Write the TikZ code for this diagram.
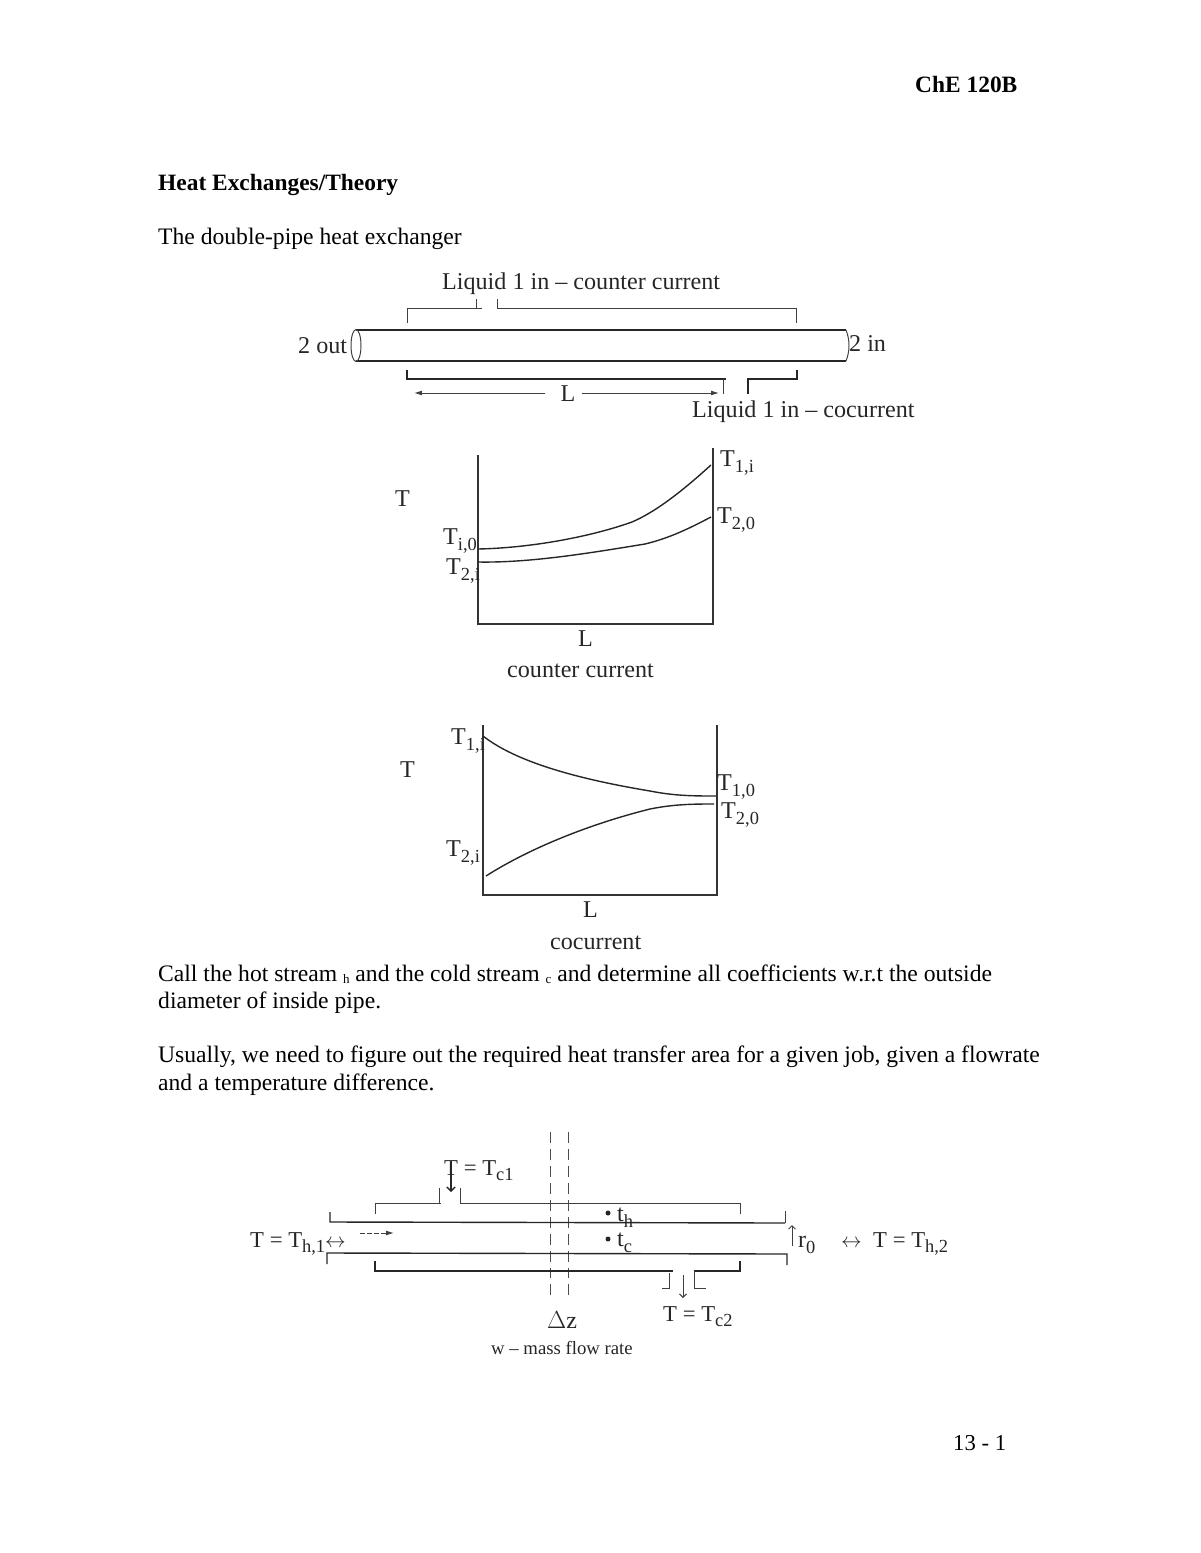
\documentclass[tikz,border=0pt]{standalone}
\usepackage{fontspec}
\setmainfont{Liberation Serif}
\usetikzlibrary{arrows.meta}
\newcommand{\lowsub}[1]{\raisebox{-0.55ex}{\fontsize{18.5}{18.5}\selectfont #1}}
\newcommand{\tinysub}[1]{\raisebox{-0.25ex}{\fontsize{13}{13}\selectfont #1}}
\begin{document}
\begin{tikzpicture}[x=1bp,y=-1bp,>={Latex[length=8pt,width=5pt]},
    bodytext/.style={inner sep=0pt,anchor=base west,font=\fontsize{23.7}{28}\selectfont},
    headtext/.style={bodytext,font=\fontsize{23.5}{28}\selectfont\bfseries},
    figtext/.style={inner sep=0pt,anchor=base west,text=black!85,font=\fontsize{24.2}{28}\selectfont},
    eqtext/.style={figtext,font=\fontsize{22.8}{28}\selectfont},
    pipeline/.style={line width=1.4pt,black!85},
    thinline/.style={line width=1pt,black!75},
    axisline/.style={line width=1.2pt,black!80},
    curveline/.style={line width=1.4pt,black!85},
    guideline/.style={line width=0.8pt,black!70,dash pattern=on 11pt off 6pt}]
    \useasboundingbox (0,0) rectangle (1200,1553);
    % page text
    \node[headtext] (course) at (915,93) {ChE 120B};
    \node[headtext] (title) at (158,190) {Heat Exchanges/Theory};
    \node[bodytext] (intro) at (158,244) {The double-pipe heat exchanger};
    \node[bodytext] (calla) at (158,981) {Call the hot stream \tinysub{h} and the cold stream \tinysub{c} and determine all coefficients w.r.t the outside};
    \node[bodytext] (callb) at (158,1008) {diameter of inside pipe.};
    \node[bodytext] (usea) at (158,1062) {Usually, we need to figure out the required heat transfer area for a given job, given a flowrate};
    \node[bodytext] (useb) at (158,1090) {and a temperature difference.};
    \node[bodytext,font=\fontsize{22.8}{28}\selectfont] (pagenum) at (953,1450) {13 - 1};
    % double pipe
    \draw[pipeline] (356,330) -- (846,330);
    \draw[pipeline] (356,361) -- (846,361);
    \draw[thinline] (356,345.5) ellipse (5 and 16);
    \draw[thinline] (846,330) .. controls (850,340) and (850,351) .. (846,361);
    \draw[thinline] (407,323) -- (407,308) -- (482,308);
    \draw[thinline] (476,308) -- (476,299);
    \draw[thinline] (497,299) -- (497,308) -- (796,308) -- (796,323);
    \draw[pipeline] (407,370) -- (407,379) -- (726,379);
    \draw[thinline] (723,379) -- (723,394);
    \draw[pipeline] (748,394) -- (748,379) -- (797,379) -- (797,370);
    \node[figtext] (counterlabel) at (442,289) {Liquid 1 in -- counter current};
    \node[figtext] (outlabel) at (298,353) {2 out};
    \node[figtext] (inlabel) at (849,351) {2 in};
    \node[figtext] (colabel) at (692,417) {Liquid 1 in -- cocurrent};
    \node[inner sep=1pt,text=black!85,font=\fontsize{24.2}{28}\selectfont] (pipelen) at (568,394) {L};
    \coordinate (lenleft) at (414,393);
    \coordinate (lenright) at (719,393);
    \draw[->,thinline] (pipelen) ++(-23,-1) -- (lenleft);
    \draw[->,thinline] (pipelen) ++(14,-1) -- (lenright);
    % counter current plot
    \draw[axisline] (478,455) -- (478,624) -- (713,624) -- (713,448);
    \draw[curveline] (478,549) .. controls (530,548) and (590,537) .. (632,522) .. controls (660,510) and (690,484) .. (711,465);
    \draw[curveline] (478,562) .. controls (530,563) and (590,553) .. (645,544) .. controls (670,538) and (690,528) .. (711,517);
    \node[figtext] (counterT) at (395,506) {T};
    \node[figtext] (countera) at (443,544) {T\lowsub{i,0}};
    \node[figtext] (counterb) at (446,574) {T\lowsub{2,i}};
    \node[figtext] (counterc) at (720,466) {T\lowsub{1,i}};
    \node[figtext] (counterd) at (717,523) {T\lowsub{2,0}};
    \node[figtext] (counterL) at (578,646) {L};
    \node[figtext] (countername) at (507,677) {counter current};
    % cocurrent plot
    \draw[axisline] (483,725) -- (483,895) -- (717,895) -- (717,725);
    \draw[curveline] (483,736) .. controls (520,765) and (590,781) .. (650,791) .. controls (675,796) and (695,796) .. (716,796);
    \draw[curveline] (486,876) .. controls (530,848) and (590,824) .. (650,809) .. controls (675,804) and (695,804) .. (714,804);
    \node[figtext] (coT) at (400,777) {T};
    \node[figtext] (coa) at (451,744) {T\lowsub{1,i}};
    \node[figtext] (cob) at (446,856) {T\lowsub{2,i}};
    \node[figtext] (coc) at (717,790) {T\lowsub{1,0}};
    \node[figtext] (cod) at (721,818) {T\lowsub{2,0}};
    \node[figtext] (coL) at (583,917) {L};
    \node[figtext] (coname) at (550,949) {cocurrent};
    % element of the pipe
    \draw[guideline] (550,1132) -- (550,1300);
    \draw[guideline] (568,1132) -- (568,1300);
    \draw[thinline] (375,1214) -- (375,1203) -- (441,1203);
    \draw[thinline] (439,1203) -- (439,1188);
    \draw[thinline] (460,1188) -- (460,1203) -- (740,1203) -- (740,1214);
    \draw[pipeline] (330,1212) -- (330,1222) -- (785,1223);
    \draw[thinline] (785,1223) -- (785,1211);
    \draw[pipeline] (327,1264) -- (327,1253) -- (787,1254) -- (787,1265);
    \draw[pipeline] (375,1261) -- (375,1271) -- (673,1271);
    \draw[pipeline] (694,1271) -- (740,1271) -- (740,1261);
    \draw[thinline] (662,1288) -- (669,1288) -- (669,1273);
    \draw[thinline] (694,1271) -- (694,1288) -- (706,1288);
    \node[eqtext] (coldin) at (444,1175) {T = T\lowsub{c1}};
    \node[eqtext] (coldout) at (663,1321) {T = T\lowsub{c2}};
    \node[eqtext] (hotin) at (250,1247) {T = T\lowsub{h,1}$\leftrightarrow$};
    \node[eqtext] (hotout) at (841,1247) {$\leftrightarrow$\ \ T = T\lowsub{h,2}};
    \node[figtext] (radius) at (798,1247) {r\lowsub{0}};
    \node[figtext] (delta) at (547,1328) {$\Delta$z};
    \node[figtext,font=\fontsize{18.8}{22}\selectfont] (flowrate) at (491,1354) {w -- mass flow rate};
    \node[figtext] (hottemp) at (617,1221) {t\lowsub{h}};
    \node[figtext] (coldtemp) at (617,1246) {t\lowsub{c}};
    \fill[black!85] (608,1213) circle (2.5);
    \fill[black!85] (608,1239) circle (2.5);
    \coordinate (coldarrowa) at (451,1172);
    \coordinate (coldarrowb) at (451,1192);
    \coordinate (outarrowa) at (683,1275);
    \coordinate (outarrowb) at (683,1298);
    \coordinate (radiusa) at (792,1246);
    \coordinate (radiusb) at (792,1225);
    \coordinate (flowa) at (360,1233);
    \coordinate (flowb) at (394,1233);
    \draw[-{Straight Barb},line width=1.3pt,black!85] (coldarrowa) -- (coldarrowb);
    \draw[-{Straight Barb},thinline] (outarrowa) -- (outarrowb);
    \draw[-{Straight Barb},thinline] (radiusa) -- (radiusb);
    \draw[->,thinline,dash pattern=on 5pt off 2pt] (flowa) -- (flowb);
\end{tikzpicture}
\end{document}
